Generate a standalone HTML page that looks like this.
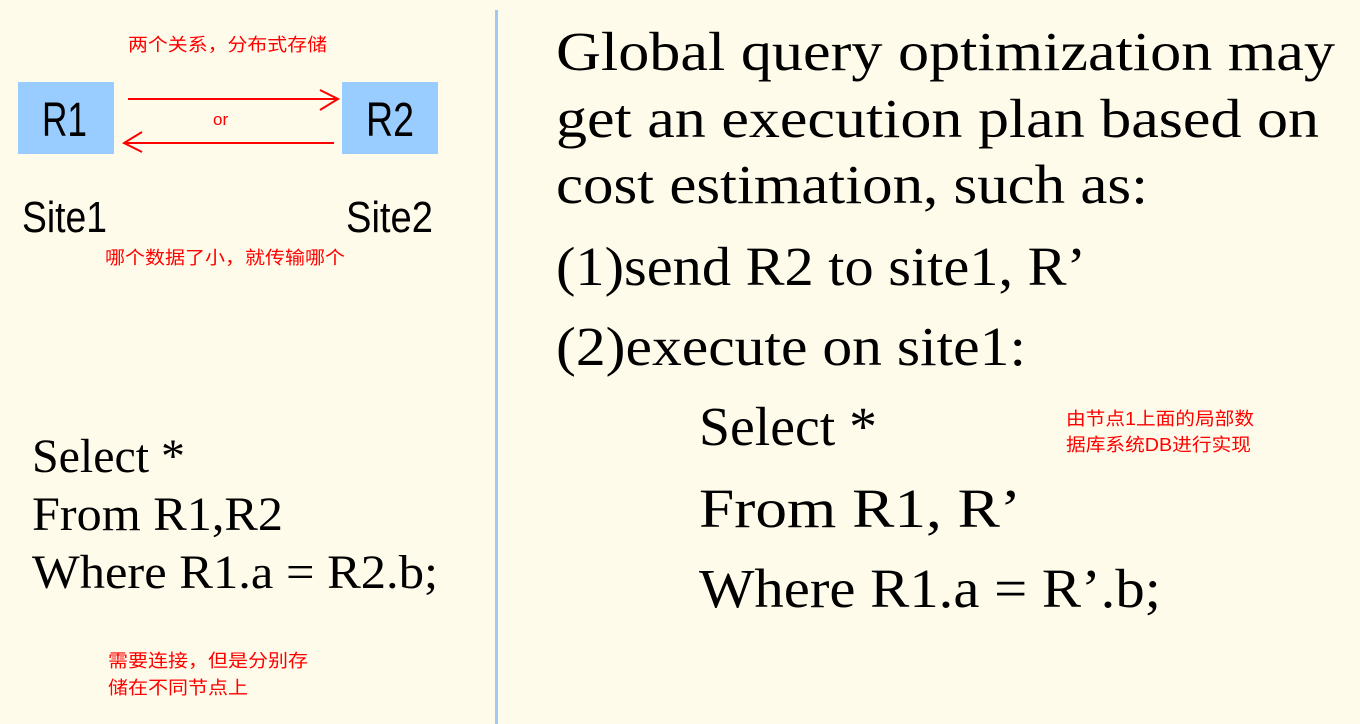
<!DOCTYPE html>
<html><head><meta charset="utf-8"><style>
body{margin:0;background:#fffbeb;}
svg{display:block}
</style></head><body>
<svg width="1360" height="724" xmlns="http://www.w3.org/2000/svg">
<rect width="1360" height="724" fill="#fffbeb"/>
<rect x="495" y="10" width="3" height="714" fill="#9ccaf5"/>
<rect x="18" y="82" width="96" height="72" fill="#99ccff"/>
<rect x="342" y="82" width="96" height="72" fill="#99ccff"/>
<g font-family="Liberation Sans, sans-serif" fill="#000">
<text x="42" y="136" font-size="48" textLength="45" lengthAdjust="spacingAndGlyphs">R1</text>
<text x="366" y="136" font-size="48" textLength="48" lengthAdjust="spacingAndGlyphs">R2</text>
<text x="22" y="232" font-size="44" textLength="85" lengthAdjust="spacingAndGlyphs">Site1</text>
<text x="346" y="232" font-size="44" textLength="87" lengthAdjust="spacingAndGlyphs">Site2</text>
</g>
<g stroke="#ff0000" stroke-width="2" fill="none">
<line x1="128" y1="99" x2="338" y2="99"/>
<polyline points="320,90 338,99 320,110"/>
<line x1="124" y1="143" x2="334" y2="143"/>
<polyline points="142,132 124,143 142,152"/>
</g>
<g font-family="Liberation Sans, Noto Sans CJK SC, sans-serif" fill="#ff0000" font-size="18" lengthAdjust="spacingAndGlyphs">
<text x="213" y="125" font-size="17">or</text>
<text x="128" y="51" textLength="199" lengthAdjust="spacingAndGlyphs">两个关系，分布式存储</text>
<text x="105" y="264" textLength="240" lengthAdjust="spacingAndGlyphs">哪个数据了小，就传输哪个</text>
<text x="108" y="667" textLength="200" lengthAdjust="spacingAndGlyphs">需要连接，但是分别存</text>
<text x="108" y="694" textLength="140" lengthAdjust="spacingAndGlyphs">储在不同节点上</text>
<text x="1066" y="425" textLength="188" lengthAdjust="spacingAndGlyphs">由节点1上面的局部数</text>
<text x="1066" y="451" textLength="185" lengthAdjust="spacingAndGlyphs">据库系统DB进行实现</text>
</g>
<g font-family="Liberation Serif, serif" fill="#000">
<text x="32" y="472" font-size="48" textLength="153" lengthAdjust="spacingAndGlyphs">Select *</text>
<text x="32" y="530" font-size="48" textLength="251" lengthAdjust="spacingAndGlyphs">From R1,R2</text>
<text x="32" y="588" font-size="48" textLength="406" lengthAdjust="spacingAndGlyphs">Where R1.a = R2.b;</text>
<text x="556" y="70" font-size="55" textLength="779" lengthAdjust="spacingAndGlyphs">Global query optimization may</text>
<text x="556" y="137" font-size="55" textLength="763" lengthAdjust="spacingAndGlyphs">get an execution plan based on</text>
<text x="556" y="203" font-size="55" textLength="592" lengthAdjust="spacingAndGlyphs">cost estimation, such as:</text>
<text x="556" y="285" font-size="55" textLength="530" lengthAdjust="spacingAndGlyphs">(1)send R2 to site1, R’</text>
<text x="556" y="365" font-size="55" textLength="470" lengthAdjust="spacingAndGlyphs">(2)execute on site1:</text>
<text x="699" y="445" font-size="55" textLength="178" lengthAdjust="spacingAndGlyphs">Select *</text>
<text x="699" y="527" font-size="55" textLength="322" lengthAdjust="spacingAndGlyphs">From R1, R’</text>
<text x="699" y="607" font-size="55" textLength="462" lengthAdjust="spacingAndGlyphs">Where R1.a = R’.b;</text>
</g>
</svg>
</body></html>
